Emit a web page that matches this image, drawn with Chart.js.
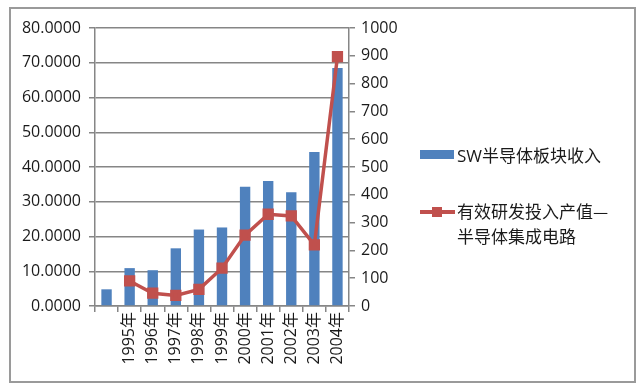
<!DOCTYPE html>
<html>
<head>
<meta charset="utf-8">
<script src="https://cdn.jsdelivr.net/npm/chart.js@4.4.1/dist/chart.umd.min.js"></script>
<style>
  body { margin: 0; background: #fff; }
  #wrap { position: relative; width: 640px; height: 389px; }
  #frame { position: absolute; left: 9px; top: 7px; width: 623px; height: 372px; border: 2px solid #9a9a9a; pointer-events: none; }
  .leg { position: absolute; font-family: "Noto Sans CJK SC", sans-serif; font-size: 17px; color: #1a1a1a; line-height: 25px; }
  .swatch { position: absolute; }
</style>
</head>
<body>
<div id="wrap">
  <canvas id="myChart" width="640" height="389"></canvas>
  <div id="frame"></div>
  <div class="swatch" style="left:420px;top:150px;width:34px;height:9px;background:#4F81BD"></div>
  <div class="leg" style="left:457px;top:142px"><span style="font-family:'Open Sans',sans-serif">SW</span>半导体板块收入</div>
  <div class="swatch" style="left:420px;top:210px;width:35px;height:4px;background:#C0504D"></div>
  <div class="swatch" style="left:432px;top:207px;width:10px;height:10px;background:#C0504D"></div>
  <div class="leg" style="left:457px;top:198px">有效研发投入产值—<br>半导体集成电路</div>
</div>
<script>
const ctx = document.getElementById('myChart').getContext('2d');

// datos
const categories = ['', '1995年', '1996年', '1997年', '1998年', '1999年', '2000年', '2001年', '2002年', '2003年', '2004年'];
const revenue = [4.8, 10.9, 10.3, 16.6, 22.0, 22.6, 34.3, 36.0, 32.7, 44.3, 68.5];
const rdOutput = [null, 90, 46, 38, 60, 136, 255, 330, 324, 220, 897];
const leftTicks = [0, 10, 20, 30, 40, 50, 60, 70, 80];
const rightTicks = [0, 100, 200, 300, 400, 500, 600, 700, 800, 900, 1000];

const axisColor = '#868686';
const textColor = '#1a1a1a';
const tickFont = { family: "'Open Sans', 'Noto Sans CJK SC', sans-serif", size: 16 };

const myChart = new Chart(ctx, {
    data: {
        labels: categories,
        datasets: [{
            type: 'line',
            label: '有效研发投入产值—半导体集成电路',
            data: rdOutput,
            yAxisID: 'y1',
            borderColor: '#C0504D',
            backgroundColor: '#C0504D',
            borderWidth: 3.5,
            pointStyle: 'rect',
            pointRadius: 5.5,
            pointBackgroundColor: '#C0504D',
            pointBorderColor: '#C0504D',
            tension: 0,
            order: 0
        }, {
            type: 'bar',
            label: 'SW半导体板块收入',
            data: revenue,
            yAxisID: 'y',
            backgroundColor: '#4F81BD',
            categoryPercentage: 1,
            barPercentage: 0.45,
            order: 1
        }]
    },
    options: {
        responsive: false,
        animation: false,
        devicePixelRatio: 1,
        layout: { padding: { left: 0, right: 231, top: 28, bottom: 0 } },
        plugins: { legend: { display: false }, tooltip: { enabled: false } },
        scales: {
            x: {
                offset: true,
                grid: { offset: true, drawOnChartArea: false, tickLength: 6, color: axisColor, lineWidth: 1.5 },
                border: { color: axisColor, width: 1.5 },
                ticks: { minRotation: 90, maxRotation: 90, autoSkip: false, font: tickFont, color: textColor, padding: 0 },
                afterFit: s => { s.height = 83; }
            },
            y: {
                position: 'left',
                min: 0,
                max: 80,
                afterBuildTicks: s => { s.ticks = leftTicks.map(v => ({ value: v })); },
                ticks: { font: tickFont, color: textColor, padding: 8, callback: v => v.toFixed(4) },
                grid: { color: axisColor, lineWidth: 1.5, tickLength: 6 },
                border: { color: axisColor, width: 1.5 },
                afterFit: s => { s.width = 95; }
            },
            y1: {
                position: 'right',
                min: 0,
                max: 1000,
                afterBuildTicks: s => { s.ticks = rightTicks.map(v => ({ value: v })); },
                ticks: { font: tickFont, color: textColor, padding: 6, callback: v => String(v) },
                grid: { drawOnChartArea: false, color: axisColor, lineWidth: 1.5, tickLength: 6 },
                border: { color: axisColor, width: 1.5 },
                afterFit: s => { s.width = 60; }
            }
        }
    }
});
</script>
</body>
</html>
